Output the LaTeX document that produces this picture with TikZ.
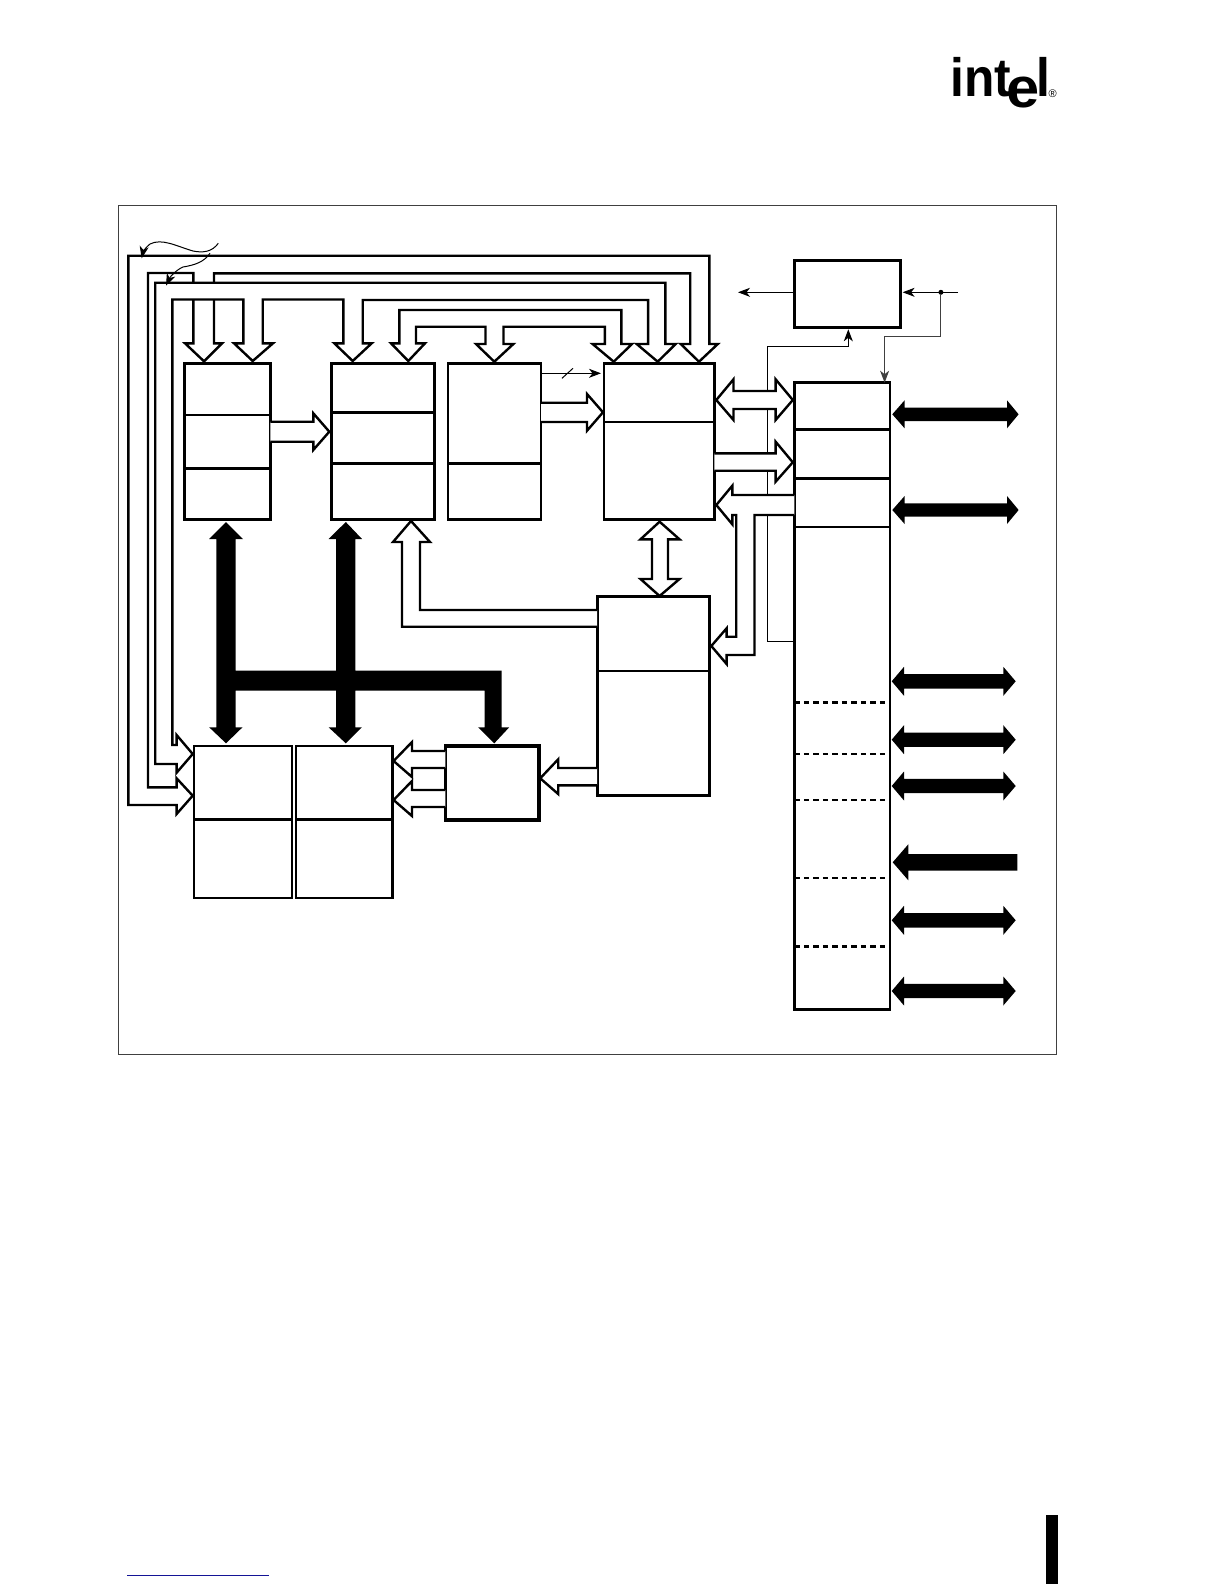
\documentclass[tikz,border=0pt]{standalone}
\usepackage{fontspec}
\usetikzlibrary{arrows.meta,calc}
\newfontfamily\logofont{Liberation Sans}
\definecolor{linkblue}{RGB}{20,20,150}
\begin{document}
\begin{tikzpicture}[x=1pt,y=-1pt,line join=miter,>={Stealth[length=12pt,width=9pt,inset=3.5pt]},
    unit/.style={draw,line width=2.6pt,minimum width=#1,anchor=north west,inner sep=0pt,outer sep=0pt,fill=none},
    busline/.style={draw,line width=2.4pt},
    busfill/.style={draw,fill=white,line width=2.4pt},
    divider/.style={line width=2.4pt},
    portdash/.style={line width=#1,dash pattern=on 5.5pt off 4pt},
    wire/.style={line width=1pt},
    logotext/.style={inner sep=0pt,anchor=base west,xscale=.92,font=\logofont\bfseries\fontsize{54}{54}\selectfont}]
    \useasboundingbox (0,0) rectangle (1224,1584);
    \draw[line width=1pt,black!75] (118,205) rectangle (1056,1054);
    % boxes
    \node[unit=86.3pt,minimum height=156pt,line width=3pt] (fetch) at (184,363.3) {};
    \node[unit=103pt,minimum height=156pt,line width=3pt] (decode) at (331,363.3) {};
    \node[unit=93pt,minimum height=156pt] (limit) at (448,363.3) {};
    \node[unit=110.3pt,minimum height=156pt] (iface) at (604,363.3) {};
    \node[unit=112.2pt,minimum height=199pt] (exec) at (597.2,596.7) {};
    \node[unit=98.5pt,minimum height=152.3pt,line width=2pt] (regs) at (193.5,746) {};
    \node[unit=96.5pt,minimum height=152.3pt,line width=2.2pt] (alu) at (296,746) {};
    \node[unit=93.7pt,minimum height=74pt,line width=3.4pt] (ctrl) at (445.3,746) {};
    \node[unit=105.7pt,minimum height=66.6pt,line width=3pt] (clk) at (794.3,260.7) {};
    \node[unit=95.7pt,minimum height=626.6pt] (ports) at (794.3,382.7) {};
    % compartments
    \draw[divider] (fetch.west |- 0,415) -- (fetch.east |- 0,415);
    \draw[divider,line width=3pt] (fetch.west |- 0,468.3) -- (fetch.east |- 0,468.3);
    \draw[divider,line width=3pt] (decode.west |- 0,412.3) -- (decode.east |- 0,412.3);
    \draw[divider,line width=3pt] (decode.west |- 0,463.3) -- (decode.east |- 0,463.3);
    \draw[divider,line width=3pt] (limit.west |- 0,463.3) -- (limit.east |- 0,463.3);
    \draw[divider] (iface.west |- 0,422) -- (iface.east |- 0,422);
    \draw[divider] (exec.west |- 0,670.7) -- (exec.east |- 0,670.7);
    \draw[divider,line width=3pt] (regs.west |- 0,819.3) -- (regs.east |- 0,819.3);
    \draw[divider,line width=3pt] (alu.west |- 0,819.3) -- (alu.east |- 0,819.3);
    \foreach \y in {429.3,478.3,526.7} \draw[divider] (ports.west |- 0,\y) -- (ports.east |- 0,\y);
    \foreach \y/\w in {702.3/3pt,754/2.2pt,800/2.2pt,878/2.2pt,946.3/3pt} \draw[portdash=\w] (ports.west |- 0,\y) -- (ports.east |- 0,\y);
    % thin wires
    \coordinate (clkout) at (738,292.3);
    \coordinate (clkin) at (958,292.3);
    \node[circle,fill=black,inner sep=0pt,minimum size=5pt] (clkdot) at (940.9,292.3) {};
    \draw[wire,->] (clk.west |- clkout) -- (clkout);
    \draw[wire,->,shorten >=2.6pt] (clkin) -- (clk.east |- clkin);
    \draw[wire,->,black!75] (clkdot) -- (940.9,336.7) -- (884.6,336.7) -- (884.6,382.7);
    \draw[wire,->] (ports.west |- 0,641.7) -- (767.5,641.7) -- (767.5,346.7) -- (848.3,346.7) -- (848.3,329.3);
    \draw[wire,->] (limit.east |- 0,373.3) -- (601,373.3);
    \draw[wire] (562,378.3) -- (573,368.3);
    % long buses along the top
    \draw[busline] (214,282.7) -- (214,273.3) -- (690.2,273.3) -- (690.2,344) -- (680.7,344) -- (699,361.7) -- (717.8,344) -- (709.4,344) -- (709.4,255.7) -- (128.4,255.7) -- (128.4,805) -- (176.6,805) -- (176.6,814) -- (192.7,795.7) -- (176.6,778.3) -- (176.6,787.3) -- (148,787.3) -- (148,273) -- (193.3,273) -- (193.3,282.7);
    \draw[busline] (193.3,299.5) -- (193.3,343.3) -- (185,343.3) -- (204,361.3) -- (222,343.3) -- (214,343.3) -- (214,299.5);
    \draw[busline] (155.2,764) -- (176.6,764) -- (176.6,772.7) -- (192.7,754) -- (176.6,735) -- (176.6,745) -- (172.4,745) -- (172.4,299.5) -- (243.3,299.5) -- (243.3,343.3) -- (234,343.3) -- (252.7,361) -- (273,343.3) -- (262.7,343.3) -- (262.7,299.5) -- (343.3,299.5) -- (343.3,343.3) -- (334.3,343.3) -- (352.7,361) -- (371.7,343.3) -- (362.7,343.3) -- (362.7,300) -- (648.1,300) -- (648.1,344) -- (636.7,344) -- (657.7,361.7) -- (675.7,344) -- (665.4,344) -- (665.4,282.7) -- (155.2,282.7) -- cycle;
    \draw[busline] (399.3,343.3) -- (399.3,310) -- (621.3,310) -- (621.3,344) -- (632,344) -- (613.7,361.7) -- (592.6,344) -- (604.9,344) -- (604.9,326.7) -- (503.5,326.7) -- (503.5,344) -- (513.4,344) -- (494.3,361.7) -- (476,344) -- (485.5,344) -- (485.5,326.7) -- (416,326.7) -- (416,343.3) -- (425,343.3) -- (408.3,361) -- (391,343.3) -- cycle;
    % hollow arrows
    \draw[busfill] (fetch.east |- 0,421.7) -- (313.3,421.7) -- (313.3,413.3) -- (329.3,431.7) -- (313.3,450) -- (313.3,441.7) -- (fetch.east |- 0,441.7);
    \draw[busfill] (limit.east |- 0,402.7) -- (587,402.7) -- (587,394) -- (603,412.3) -- (587,430.7) -- (587,422) -- (limit.east |- 0,422);
    \draw[busfill] (716.3,400) -- (733.5,379.3) -- (733.5,391) -- (775.6,391) -- (775.6,379.3) -- (792.8,400) -- (775.6,420) -- (775.6,409) -- (733.5,409) -- (733.5,420) -- cycle;
    \draw[busfill] (iface.east |- 0,453.3) -- (775.6,453.3) -- (775.6,441.7) -- (792.8,462.3) -- (775.6,481.7) -- (775.6,470.7) -- (iface.east |- 0,470.7);
    \draw[busfill] (ports.west |- 0,495) -- (732.3,495) -- (732.3,485.7) -- (716.3,505) -- (732.3,524.3) -- (732.3,515) -- (736.2,515) -- (736.2,636.7) -- (726.6,636.7) -- (726.6,628.3) -- (711.3,646) -- (726.6,664) -- (726.6,655) -- (754.5,655) -- (754.5,515) -- (ports.west |- 0,515);
    \draw[busfill] (659.6,521.7) -- (679.5,539.3) -- (668,539.3) -- (668,579) -- (679.5,579) -- (659.6,596) -- (640.5,579) -- (652,579) -- (652,539.3) -- (640.5,539.3) -- cycle;
    \draw[busfill] (exec.west |- 0,610) -- (420,610) -- (420,542) -- (430,542) -- (411,521) -- (393,542) -- (402,542) -- (402,626.7) -- (exec.west |- 0,626.7);
    \draw[busfill] (exec.west |- 0,768) -- (558.2,768) -- (558.2,759.3) -- (540.2,778.3) -- (558.2,794) -- (558.2,785.3) -- (exec.west |- 0,785.3);
    \foreach \y in {761,800} \draw[busfill] (ctrl.west |- 0,\y-10) -- (412,\y-10) -- (412,\y-19) -- (393.6,\y) -- (412,\y+16) -- (412,\y+7) -- (ctrl.west |- 0,\y+7);
    % solid buses
    \fill (226,522) -- (243,539) -- (235.6,539) -- (235.6,670.7) -- (336.2,670.7) -- (336.2,539) -- (328.6,539) -- (345.8,522) -- (362,539) -- (355.4,539) -- (355.4,670.7) -- (501.6,670.7) -- (501.6,727.3) -- (509.2,727.3) -- (494.3,743.3) -- (478.2,727.3) -- (484.7,727.3) -- (484.7,690.7) -- (355.4,690.7) -- (355.4,727.3) -- (361.9,727.3) -- (345.8,743.3) -- (328.6,727.3) -- (336.2,727.3) -- (336.2,690.7) -- (235.6,690.7) -- (235.6,727.3) -- (242.5,727.3) -- (226,743.3) -- (209.2,727.3) -- (216.4,727.3) -- (216.4,539) -- (209,539) -- cycle;
    \foreach \y in {414.3,510} \fill (892.3,\y) -- (904.6,\y-14) -- (904.6,\y-6.7) -- (1007,\y-6.7) -- (1007,\y-14) -- (1018.6,\y) -- (1007,\y+14) -- (1007,\y+6.7) -- (904.6,\y+6.7) -- (904.6,\y+14) -- cycle;
    \foreach \y in {681.3,739.7,786,920.3,991} \fill (891.7,\y) -- (904,\y-14.5) -- (904,\y-7.2) -- (1003.3,\y-7.2) -- (1003.3,\y-14.5) -- (1015.7,\y) -- (1003.3,\y+14.5) -- (1003.3,\y+7.2) -- (904,\y+7.2) -- (904,\y+14.5) -- cycle;
    \fill (892.7,862.3) -- (908.3,844.3) -- (908.3,854) -- (1017.3,854) -- (1017.3,870.7) -- (908.3,870.7) -- (908.3,880.3) -- cycle;
    % leaders
    \coordinate (leadstart) at (218.3,243.3);
    \draw[wire,->] (leadstart) .. controls (212,252) and (203,253) .. (193,251) .. controls (176,246) and (162,238) .. (150,244) .. controls (146,247) and (143,252) .. (141.7,258.3);
    \draw[wire,->] (210,253.3) .. controls (204,262) and (195,265) .. (183,267) .. controls (176,270) and (170,277) .. (166,285.7);
    % logo and page marks
    \node[logotext] (logo) at (950,96.7) {int\kern-5pt\raisebox{-11.3pt}{\scalebox{1.2}[1.05]{e}}\kern-3pt l};
    \node[inner sep=0pt,font=\logofont\fontsize{11}{11}\selectfont] (logor) at (1052.7,94) {®};
    \fill (1045.8,1515) rectangle (1058,1584);
    \draw[line width=1.3pt,linkblue] (127,1575.3) -- (269,1575.3);
\end{tikzpicture}
\end{document}
